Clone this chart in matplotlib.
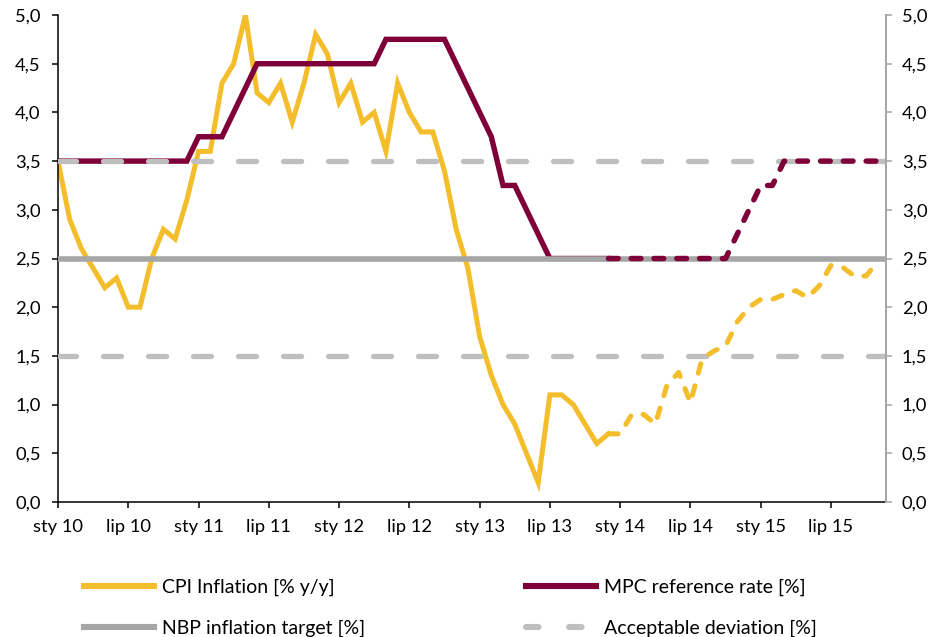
import matplotlib
matplotlib.use("Agg")
import matplotlib.pyplot as plt
from matplotlib.lines import Line2D
from matplotlib.ticker import FuncFormatter, FixedLocator, MultipleLocator

plt.rcParams['font.family'] = ['Lato', 'DejaVu Sans']
plt.rcParams['lines.scale_dashes'] = False

# ---- data -------------------------------------------------------------
tick_labels = ["sty 10", "lip 10", "sty 11", "lip 11", "sty 12", "lip 12",
               "sty 13", "lip 13", "sty 14", "lip 14", "sty 15", "lip 15"]

cpi = [3.5, 2.9, 2.6, 2.4, 2.2, 2.3, 2.0, 2.0, 2.5, 2.8, 2.7, 3.1,
       3.6, 3.6, 4.3, 4.5, 5.0, 4.2, 4.1, 4.3, 3.9, 4.3, 4.8, 4.6,
       4.1, 4.3, 3.9, 4.0, 3.6, 4.3, 4.0, 3.8, 3.8, 3.4, 2.8, 2.4,
       1.7, 1.3, 1.0, 0.8, 0.5, 0.2, 1.1, 1.1, 1.0, 0.8, 0.6, 0.7,
       0.7, 0.9, 0.9, 0.8, 1.2, 1.33, 1.02, 1.47, 1.55, 1.6, 1.85, 2.0,
       2.08, 2.08, 2.13, 2.17, 2.1, 2.22, 2.43, 2.41, 2.32, 2.32, 2.47]

mpc = [3.5, 3.5, 3.5, 3.5, 3.5, 3.5, 3.5, 3.5, 3.5, 3.5, 3.5, 3.5,
       3.75, 3.75, 3.75, 4.0, 4.25, 4.5, 4.5, 4.5, 4.5, 4.5, 4.5, 4.5,
       4.5, 4.5, 4.5, 4.5, 4.75, 4.75, 4.75, 4.75, 4.75, 4.75, 4.5, 4.25,
       4.0, 3.75, 3.25, 3.25, 3.0, 2.75, 2.5, 2.5, 2.5, 2.5, 2.5, 2.5,
       2.5, 2.5, 2.5, 2.5, 2.5, 2.5, 2.5, 2.5, 2.5, 2.5, 2.75, 3.0,
       3.25, 3.25, 3.5, 3.5, 3.5, 3.5, 3.5, 3.5, 3.5, 3.5, 3.5]

last_actual = 47          # index of last actual observation (Dec 2013)
target = 2.5
band_low, band_high = 1.5, 3.5

labels = ["CPI Inflation [% y/y]", "MPC reference rate [%]",
          "NBP inflation target [%]", "Acceptable deviation [%]"]

# ---- style --------------------------------------------------------------
c_cpi = "#F3BD2B"
c_mpc = "#7F0038"
c_target = "#A6A6A6"
c_dev = "#BFBFBF"
fs = 13.2
fs_leg = 14

x = list(range(len(cpi)))
xa = x[:last_actual + 1]
xf = x[last_actual:]

fig = plt.figure(figsize=(9.37, 6.37), dpi=100)
ax = fig.add_axes([58 / 937, 1 - 502 / 637, (886 - 58) / 937, (502 - 15) / 637])

fc_dash = (0, (7.0, 9.4))
dev_dash = (0, (13, 19.4))

ax.plot(xa, cpi[:last_actual + 1], color=c_cpi, lw=3.6, zorder=2,
        solid_joinstyle='miter')
ax.plot(xa, mpc[:last_actual + 1], color=c_mpc, lw=3.9, zorder=2.1,
        solid_joinstyle='miter')
ax.axhline(target, color=c_target, lw=4.0, zorder=3)
for lvl in (band_low, band_high):
    ax.axhline(lvl, color=c_dev, lw=3.8, linestyle=dev_dash,
               dash_capstyle='round', zorder=3.1)
ax.plot(xf, cpi[last_actual:], color=c_cpi, lw=3.6, linestyle=fc_dash,
        dash_capstyle='round', zorder=4)
ax.plot(xf, mpc[last_actual:], color=c_mpc, lw=3.9, linestyle=fc_dash,
        dash_capstyle='round', zorder=4.1)

ax.set_xlim(0, 70.7)
ax.set_ylim(0, 5)
fmt = FuncFormatter(lambda v, p: f"{v:.1f}".replace(".", ","))
ax.yaxis.set_major_locator(MultipleLocator(0.5))
ax.yaxis.set_major_formatter(fmt)
ax.xaxis.set_major_locator(FixedLocator(list(range(0, 12 * 6, 6))))
ax.set_xticklabels(tick_labels)

ax.spines["top"].set_visible(False)
ax.spines["left"].set_color("black")
ax.spines["left"].set_linewidth(1.1)
ax.spines["bottom"].set_color("black")
ax.spines["bottom"].set_linewidth(1.1)
ax.spines["right"].set_color(c_target)
ax.spines["right"].set_linewidth(1.4)

ax.tick_params(axis="y", direction="out", length=4.5, width=1.1,
               labelsize=fs, pad=8, colors="black")
ax.tick_params(axis="x", direction="out", length=4.5, width=1.1,
               labelsize=fs, pad=8, colors="black")

ax2 = ax.twinx()
ax2.set_ylim(0, 5)
ax2.yaxis.set_major_locator(MultipleLocator(0.5))
ax2.yaxis.set_major_formatter(fmt)
for s in ("top", "left", "bottom"):
    ax2.spines[s].set_visible(False)
ax2.spines["right"].set_color(c_target)
ax2.spines["right"].set_linewidth(1.4)
ax2.tick_params(axis="y", direction="out", length=4.5, width=1.1,
                labelsize=fs, pad=7, color=c_target, labelcolor="black")

handles = [
    Line2D([], [], color=c_cpi, lw=4.4),
    Line2D([], [], color=c_target, lw=4.4),
    Line2D([], [], color=c_mpc, lw=4.4),
    Line2D([], [], color=c_dev, lw=4.4, linestyle=(0, (9, 22)),
           dash_capstyle='round'),
]
leg_labels = [labels[0], labels[2], labels[1], labels[3]]
fig.legend(handles, leg_labels, ncol=2, loc="upper left",
           bbox_to_anchor=(84 / 937, 1 - 579 / 637), frameon=False,
           fontsize=fs_leg, handlelength=3.6, handletextpad=0.4,
           columnspacing=8.3, labelspacing=1.2, borderpad=0,
           borderaxespad=0)

fig.savefig("out.png", dpi=100)
